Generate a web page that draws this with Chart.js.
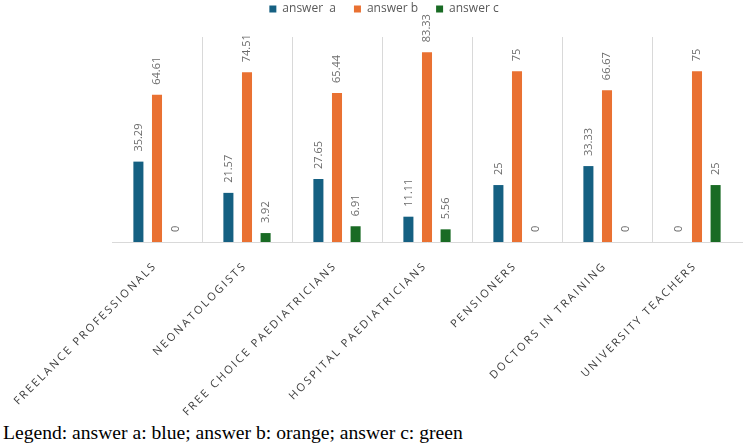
<!DOCTYPE html>
<html>
<head>
<meta charset="utf-8">
<script src="https://cdn.jsdelivr.net/npm/chart.js@4.4.1/dist/chart.umd.min.js"></script>
<style>
  html, body { margin: 0; padding: 0; background: #fff; }
  #wrap { position: relative; width: 744px; height: 446px; }
  #chartBox { position: absolute; left: 0; top: 0; width: 744px; height: 420px; }
  #caption {
    position: absolute; left: 3px; top: 422px;
    font-family: "Liberation Serif", "Times New Roman", serif;
    font-size: 19.6px; color: #000; white-space: nowrap;
  }
</style>
</head>
<body>
<div id="wrap">
  <div id="chartBox"><canvas id="answersChart"></canvas></div>
  <div id="caption">Legend: answer a: blue; answer b: orange; answer c: green</div>
</div>
<script>
const categories = [
    'FREELANCE PROFESSIONALS', 'NEONATOLOGISTS', 'FREE CHOICE PAEDIATRICIANS',
    'HOSPITAL PAEDIATRICIANS', 'PENSIONERS', 'DOCTORS IN TRAINING', 'UNIVERSITY TEACHERS'
];
const answerA = [35.29, 21.57, 27.65, 11.11, 25, 33.33, 0];
const answerB = [64.61, 74.51, 65.44, 83.33, 75, 66.67, 75];
const answerC = [0, 3.92, 6.91, 5.56, 0, 0, 25];
const seriesNames = ['answer  a', 'answer b', 'answer c'];
const seriesColors = ['#156082', '#e97132', '#196b24'];

// value labels, rotated, above each bar
const valueLabels = {
    id: 'valueLabels',
    afterDatasetsDraw(chart) {
        const ctx = chart.ctx;
        ctx.save();
        ctx.font = '11px "Open Sans"';
        ctx.fillStyle = '#6b6b6b';
        ctx.textAlign = 'left';
        ctx.textBaseline = 'middle';
        chart.data.datasets.forEach((ds, i) => {
            chart.getDatasetMeta(i).data.forEach((bar, j) => {
                ctx.save();
                ctx.translate(bar.x, bar.y - 10);
                ctx.rotate(-Math.PI / 2);
                ctx.fillText(String(ds.data[j]), 0, 0);
                ctx.restore();
            });
        });
        ctx.restore();
    }
};

// slanted category labels with letter spacing
const slantLabels = {
    id: 'slantLabels',
    afterDraw(chart) {
        const ctx = chart.ctx;
        const xScale = chart.scales.x;
        const base = chart.chartArea.bottom;
        ctx.save();
        ctx.font = '11px "Open Sans"';
        ctx.letterSpacing = '2.2px';
        ctx.fillStyle = '#404040';
        ctx.textAlign = 'right';
        ctx.textBaseline = 'middle';
        categories.forEach((label, i) => {
            ctx.save();
            ctx.translate(xScale.getPixelForValue(i) - 2, base + 22);
            ctx.rotate(-Math.PI / 4);
            ctx.fillText(label, 0, 0);
            ctx.restore();
        });
        ctx.restore();
    }
};

const ctx = document.getElementById('answersChart').getContext('2d');
new Chart(ctx, {
    type: 'bar',
    data: {
        labels: categories,
        datasets: [answerA, answerB, answerC].map((values, i) => ({
            label: seriesNames[i],
            data: values,
            backgroundColor: seriesColors[i],
            categoryPercentage: 0.62,
            barPercentage: 0.54
        }))
    },
    options: {
        responsive: true,
        maintainAspectRatio: false,
        animation: false,
        layout: {
            padding: { left: 26, right: 2, top: -15, bottom: 178 }
        },
        plugins: {
            legend: {
                position: 'top',
                labels: {
                    boxWidth: 7,
                    boxHeight: 7,
                    padding: 18,
                    color: '#595959',
                    font: { family: 'Open Sans', size: 12 }
                }
            },
            // empty spacer between legend and plot
            subtitle: {
                display: true,
                text: '',
                weight: 500,
                font: { size: 1, lineHeight: 1 },
                padding: { top: 11, bottom: 0 }
            },
            tooltip: { enabled: false }
        },
        scales: {
            x: {
                ticks: { display: false },
                grid: {
                    drawTicks: false,
                    color: function(context) {
                        if (context.type !== 'tick' || context.index === 0) return 'rgba(0,0,0,0)';
                        return '#d9d9d9';
                    }
                },
                border: { color: '#d9d9d9' }
            },
            y: {
                display: true,
                min: 0,
                max: 90,
                ticks: { display: false },
                grid: { display: false, drawTicks: false },
                border: { display: false },
                afterFit: function(scale) {
                    scale.width = 86;
                }
            }
        }
    },
    plugins: [valueLabels, slantLabels]
});
</script>
</body>
</html>
